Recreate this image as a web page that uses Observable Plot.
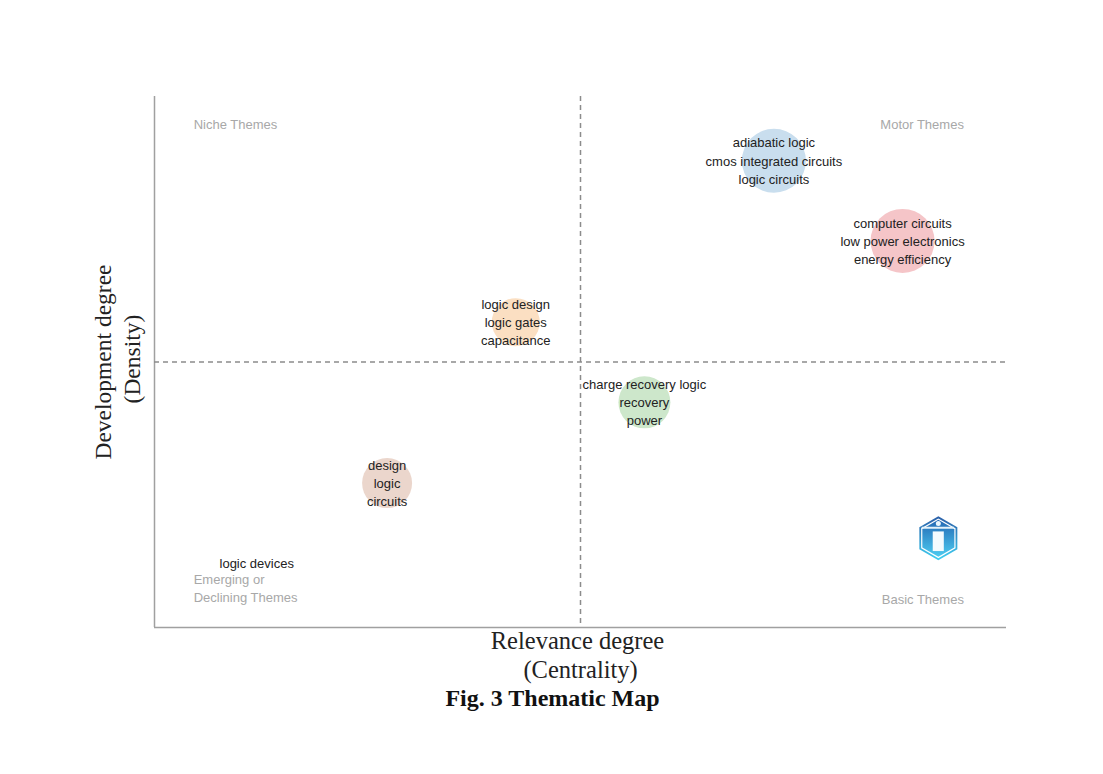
<!DOCTYPE html>
<html>
<head>
<meta charset="utf-8">
<script src="https://cdn.jsdelivr.net/npm/d3@7"></script>
<script src="https://cdn.jsdelivr.net/npm/@observablehq/plot@0.6"></script>
<style>
html,body{margin:0;padding:0;background:#fff;}
#wrap{position:relative;width:1103px;height:774px;overflow:hidden;}
#caption{position:absolute;left:0;width:1105px;top:685px;text-align:center;font:bold 24px "Liberation Serif",serif;color:#111;}
svg{display:block;}
</style>
</head>
<body>
<div id="wrap"><div id="chart"></div><div id="caption">Fig. 3 Thematic Map</div></div>
<script>
const themes = ["motor1","motor2","niche","basic","emerging"];
const centrality = [7.27, 8.78, 4.24, 5.75, 2.73];
const density = [8.79, 7.28, 5.75, 4.24, 2.72];
const sizes = [32, 32, 24, 26, 25];
const fills = ["#c9deee","#f5c5c8","#fbdfc2","#cde7cb","#ebd6cc"];
const labelLines = [
  ["adiabatic logic","cmos integrated circuits","logic circuits"],
  ["computer circuits","low power electronics","energy efficiency"],
  ["logic design","logic gates","capacitance"],
  ["charge recovery logic","recovery","power"],
  ["design","logic","circuits"]
];
const smallTheme = {x:1.2, y:1.2, label:"logic devices"};
const quadrantsLeft = [
  {x:0.46,y:9.5,text:"Niche Themes"},
  {x:0.46,y:0.76,text:"Emerging or\nDeclining Themes"}
];
const quadrantsRight = [
  {x:9.5,y:9.5,text:"Motor Themes"},
  {x:9.5,y:0.56,text:"Basic Themes"}
];
const bubbles = themes.map((t,i)=>({t,x:centrality[i],y:density[i],r:sizes[i],fill:fills[i],label:labelLines[i].join("\n")}));
const logo = [{x:9.2,y:1.68}];
const textStyle = {fontSize:13,fontFamily:"Liberation Sans"};

const gradients = () => {
  const defs = d3.create("svg:defs");
  const add = (id, a, b) => {
    const g = defs.append("linearGradient").attr("id",id).attr("x1",0).attr("x2",0).attr("y1",0).attr("y2",1);
    g.append("stop").attr("offset","0%").attr("stop-color",a);
    g.append("stop").attr("offset","100%").attr("stop-color",b);
  };
  add("logoOuter","#2a5ea8","#3fd0f2");
  add("logoInner","#2468b4","#4ccbf0");
  return defs.node();
};

const chart = Plot.plot({
  width:1103, height:700,
  marginLeft:154, marginRight:97, marginTop:96, marginBottom:73,
  x:{domain:[0,10],axis:null},
  y:{domain:[0,10],axis:null},
  r:{type:"identity"},
  style:{background:"transparent"},
  marks:[
    gradients,
    Plot.ruleX([0],{stroke:"#a0a0a0",strokeWidth:1.5}),
    Plot.ruleY([0],{stroke:"#a0a0a0",strokeWidth:1.5}),
    Plot.ruleX([5],{stroke:"#8c8c8c",strokeWidth:1.5,strokeDasharray:"5,4"}),
    Plot.ruleY([5],{stroke:"#8c8c8c",strokeWidth:1.5,strokeDasharray:"5,4"}),
    Plot.dot(bubbles,{x:"x",y:"y",r:"r",fill:"fill",stroke:"none"}),
    Plot.text(bubbles,{x:"x",y:"y",dy:-1,text:"label",lineHeight:1.39,...textStyle,fill:"#222"}),
    Plot.text([smallTheme],{x:"x",y:"y",text:"label",...textStyle,fill:"#222"}),
    Plot.text(quadrantsLeft,{x:"x",y:"y",text:"text",textAnchor:"start",lineHeight:1.39,...textStyle,fill:"#a8a8a8"}),
    Plot.text(quadrantsRight,{x:"x",y:"y",text:"text",textAnchor:"end",lineHeight:1.39,...textStyle,fill:"#a8a8a8"}),
    // logo badge, built from layered hexagons
    Plot.dot(logo,{x:"x",y:"y",symbol:"hexagon",r:19,fill:"url(#logoOuter)"}),
    Plot.dot(logo,{x:"x",y:"y",symbol:"hexagon",r:17.2,fill:"#fff"}),
    Plot.dot(logo,{x:"x",y:"y",symbol:"hexagon",r:16,fill:"url(#logoInner)"}),
    Plot.rect(logo,{x1:d=>d.x-0.06,x2:d=>d.x+0.07,y1:d=>d.y-0.25,y2:d=>d.y+0.12,fill:"#f4fbfe"}),
    Plot.ruleY(logo,{y:d=>d.y+0.2,x1:d=>d.x-0.19,x2:d=>d.x+0.19,stroke:"#e4f2fa",strokeWidth:2}),
    Plot.dot(logo,{x:d=>d.x,y:d=>d.y+0.28,r:2.5,fill:"#eaf6fc"}),
    // axis titles
    Plot.text(["Relevance degree\n (Centrality)"],{frameAnchor:"bottom",dy:27,dx:-3,textAnchor:"middle",text:d=>d,lineAnchor:"middle",lineHeight:1.15,fontSize:24.5,fontFamily:"Liberation Serif",fill:"#222"}),
    Plot.text(["Development degree\n (Density)"],{frameAnchor:"left",dx:-38.5,textAnchor:"middle",text:d=>d,rotate:-90,lineHeight:1.25,fontSize:23.5,fontFamily:"Liberation Serif",fill:"#222"})
  ]
});
document.getElementById("chart").appendChild(chart);
</script>
</body>
</html>
